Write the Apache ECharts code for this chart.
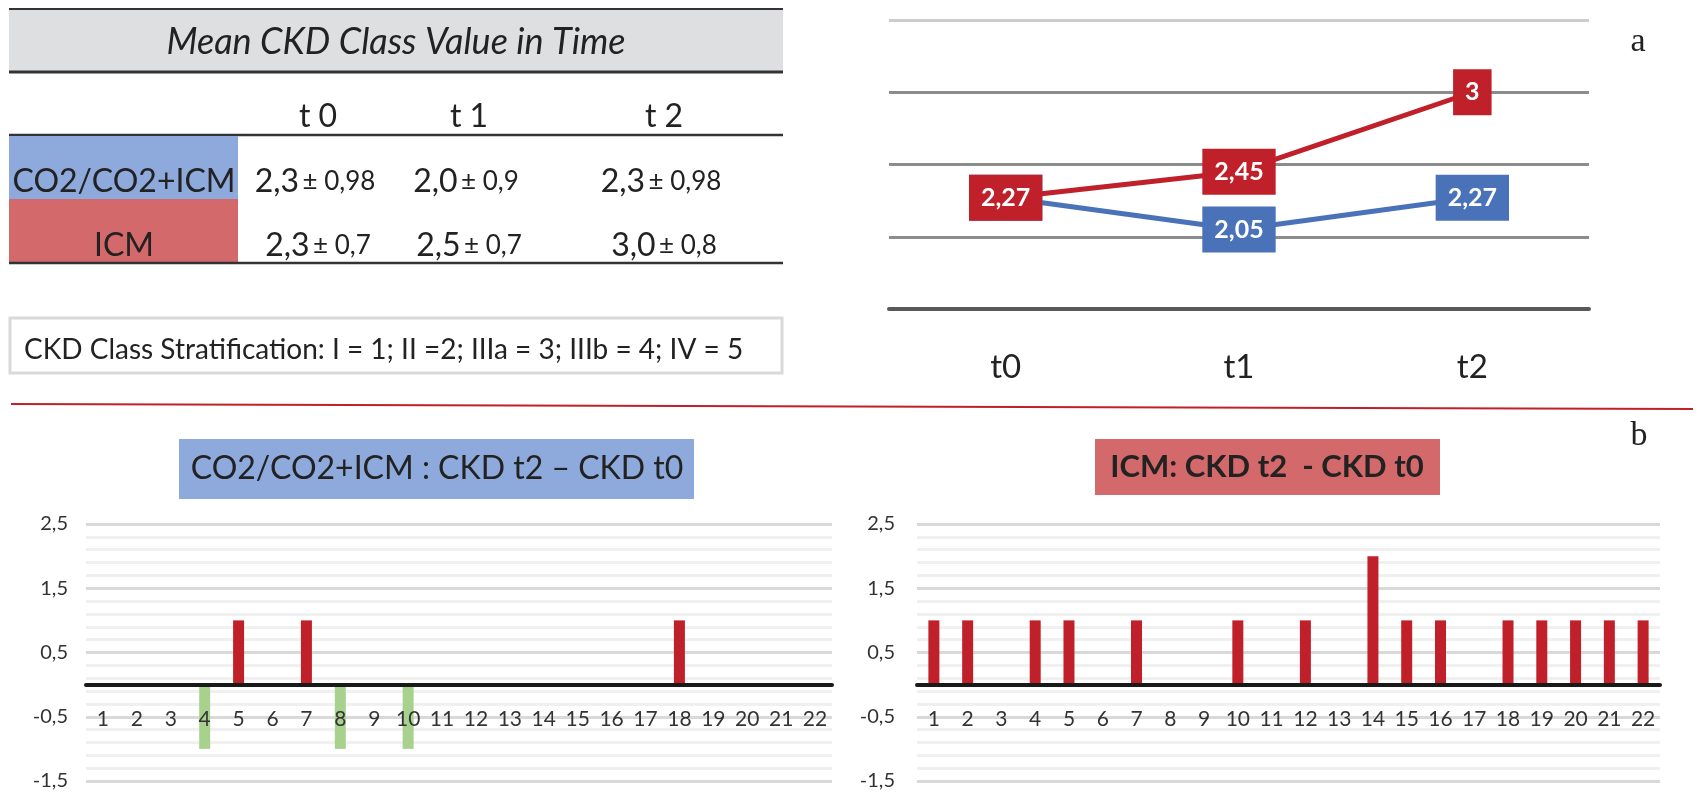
<!DOCTYPE html>
<html>
<head>
    <meta charset="utf-8">
    <title>Mean CKD Class Value in Time</title>
    <script type="text/javascript" src="https://cdn.jsdelivr.net/npm/echarts@6/dist/echarts.min.js"></script>
    <style>
        html, body { margin: 0; padding: 0; background: #fff; }
    </style>
</head>
<body>
    <div id="main" style="width:1700px; height:800px;"></div>
    <script type="text/javascript">

    // ---- data ----
    var timePoints = ['t0', 't1', 't2'];
    var co2Mean = [2.27, 2.05, 2.27];
    var icmMean = [2.27, 2.45, 3];

    // table (mean ± sd)
    var tableHeads = ['t 0', 't 1', 't 2'];
    var tableRows = ['CO2/CO2+ICM', 'ICM'];
    var co2TableMean = ['2,3', '2,0', '2,3'];
    var co2TableSd = ['0,98', '0,9', '0,98'];
    var icmTableMean = ['2,3', '2,5', '3,0'];
    var icmTableSd = ['0,7', '0,7', '0,8'];

    // CKD t2 - CKD t0 per patient
    var patients = ['1','2','3','4','5','6','7','8','9','10','11','12','13','14','15','16','17','18','19','20','21','22'];
    var co2Diff = [0, 0, 0, -1, 1, 0, 1, -1, 0, -1, 0, 0, 0, 0, 0, 0, 0, 1, 0, 0, 0, 0];
    var icmDiff = [1, 1, 0, 1, 1, 0, 1, 0, 0, 1, 0, 1, 0, 2, 1, 1, 0, 1, 1, 1, 1, 1];

    var RED = '#C0202A';
    var BLUE = '#4A72B8';
    var GREEN = '#A9D18E';
    var FONT = 'Lato';

    var BAR_MIN = -1.5, BAR_MAX = 2.5, BAR_H = 257;

    var myChart = echarts.init(document.getElementById('main'));

    function comma(v) {
        return String(v).replace('.', ',');
    }

    // 条形图的网格：每0.1一个刻度，只画-1.5起每0.2一条，每1一条深色
    var barGridColors = ['#d9d9d9', 'rgba(0,0,0,0)', '#f0f0f0', 'rgba(0,0,0,0)', '#f0f0f0',
                         'rgba(0,0,0,0)', '#f0f0f0', 'rgba(0,0,0,0)', '#f0f0f0', 'rgba(0,0,0,0)'];

    function barYAxis(idx, margin) {
        return {
            type: 'value',
            gridIndex: idx,
            min: BAR_MIN,
            max: BAR_MAX,
            interval: 0.1,
            axisLine: { show: false },
            axisTick: { show: false },
            axisLabel: {
                margin: margin,
                fontFamily: FONT,
                fontSize: 20,
                color: '#333',
                formatter: function (v) {
                    var k = Math.round((v - BAR_MIN) * 10);
                    return k % 10 === 0 ? comma(Math.round(v * 10) / 10) : '';
                }
            },
            splitLine: { lineStyle: { color: barGridColors, width: 3 } }
        };
    }

    // x 轴放在 0 处（标签也跟着），画在柱子上面
    function barXAxis(idx) {
        return {
            type: 'category',
            gridIndex: idx,
            data: patients,
            z: 5,
            offset: -BAR_H * (0 - BAR_MIN) / (BAR_MAX - BAR_MIN),
            axisLine: { onZero: false, lineStyle: { color: '#1a1a1a', width: 4 } },
            axisTick: { show: false },
            axisLabel: { interval: 0, margin: 24, fontFamily: FONT, fontSize: 21, color: '#333' }
        };
    }

    function cell(text, x, y, size, extra) {
        var st = { text: text, x: x, y: y, fill: '#222', font: size + 'px ' + FONT,
                   align: 'center', verticalAlign: 'middle' };
        for (var k in extra) st[k] = extra[k];
        return { type: 'text', style: st };
    }

    function hline(y, w) {
        return { type: 'line', shape: { x1: 9, y1: y, x2: 783, y2: y },
                 style: { stroke: '#333', lineWidth: w } };
    }

    function valueText(mean, sd, x, y) {
        return {
            type: 'text',
            style: {
                text: '{m|' + mean + '} {s|± ' + sd + '}',
                x: x, y: y, align: 'center', verticalAlign: 'middle',
                rich: {
                    m: { fontFamily: FONT, fontSize: 32, fill: '#222' },
                    s: { fontFamily: FONT, fontSize: 26, fill: '#222' }
                }
            }
        };
    }

    var colX = [318, 469, 664];
    var graphics = [
        { type: 'rect', shape: { x: 9, y: 9, width: 774, height: 63 }, style: { fill: '#DEDFE1' } },
        hline(9, 2),
        hline(72, 3),
        cell('Mean CKD Class Value in Time', 396, 42, 36, { font: 'italic 36px ' + FONT }),
        hline(135, 2.5),
        { type: 'rect', shape: { x: 9, y: 136, width: 229, height: 63 }, style: { fill: '#8EA9DB' } },
        { type: 'rect', shape: { x: 9, y: 199, width: 229, height: 63 }, style: { fill: '#D4696B' } },
        cell(tableRows[0], 124, 182, 32),
        cell(tableRows[1], 124, 246, 32),
        hline(263, 2.5),
        { type: 'rect', shape: { x: 10, y: 318, width: 772, height: 55 },
          style: { fill: 'none', stroke: '#d9d9d9', lineWidth: 3 } },
        cell('CKD Class Stratification: I = 1; II =2; IIIa = 3; IIIb = 4; IV = 5', 24, 350, 28, { align: 'left' }),
        // separator + panel letters
        { type: 'line', shape: { x1: 11, y1: 404, x2: 1693, y2: 409 }, style: { stroke: RED, lineWidth: 2 } },
        cell('a', 1638, 42, 34, { font: '34px "Liberation Serif"' }),
        cell('b', 1639, 436, 34, { font: '34px "Liberation Serif"' }),
        // bar chart titles
        { type: 'rect', shape: { x: 179, y: 439, width: 515, height: 60 }, style: { fill: '#8EA9DB' } },
        cell('CO2/CO2+ICM : CKD t2 – CKD t0', 437, 469, 32),
        { type: 'rect', shape: { x: 1095, y: 439, width: 345, height: 56 }, style: { fill: '#D4696B' } },
        cell('ICM: CKD t2  - CKD t0', 1267, 467, 31, { font: 'bold 31px ' + FONT })
    ];
    for (var i = 0; i < 3; i++) {
        graphics.push(cell(tableHeads[i], colX[i], 117, 32));
        graphics.push(valueText(co2TableMean[i], co2TableSd[i], colX[i] - 3, 182));
        graphics.push(valueText(icmTableMean[i], icmTableSd[i], colX[i], 246));
    }

    function lineLabel(color) {
        return {
            show: true,
            position: 'inside',
            formatter: function (p) { return comma(p.value); },
            color: '#fff',
            fontFamily: FONT,
            fontWeight: 'bold',
            fontSize: 25,
            backgroundColor: color,
            padding: [11, 12, 10, 12]
        };
    }

    option = {
        animation: false,
        textStyle: { fontFamily: FONT },
        graphic: graphics,
        grid: [
            { left: 889, top: 20, width: 700, height: 289, outerBoundsMode: 'none' },
            { left: 86, top: 524, width: 746, height: BAR_H, outerBoundsMode: 'none' },
            { left: 917, top: 524, width: 743, height: BAR_H, outerBoundsMode: 'none' }
        ],
        xAxis: [
            {
                type: 'category',
                gridIndex: 0,
                data: timePoints,
                axisLine: { lineStyle: { color: '#595959', width: 4 } },
                axisTick: { show: false },
                axisLabel: { margin: 42, fontFamily: FONT, fontSize: 33, color: '#222' }
            },
            barXAxis(1),
            barXAxis(2)
        ],
        yAxis: [
            {
                type: 'value',
                gridIndex: 0,
                min: 1.5,
                max: 3.5,
                interval: 0.5,
                axisLine: { show: false },
                axisTick: { show: false },
                axisLabel: { show: false },
                splitLine: { lineStyle: { color: ['#595959', '#8c8c8c', '#8c8c8c', '#8c8c8c', '#cccccc'], width: 3 } }
            },
            barYAxis(1, 18),
            barYAxis(2, 22)
        ],
        series: [
            {
                name: 'CO2/CO2+ICM',
                type: 'line',
                xAxisIndex: 0,
                yAxisIndex: 0,
                data: co2Mean,
                symbol: 'rect',
                symbolSize: 6,
                itemStyle: { color: BLUE },
                lineStyle: { color: BLUE, width: 5 },
                label: lineLabel(BLUE),
                z: 3
            },
            {
                name: 'ICM',
                type: 'line',
                xAxisIndex: 0,
                yAxisIndex: 0,
                data: icmMean,
                symbol: 'rect',
                symbolSize: 6,
                itemStyle: { color: RED },
                lineStyle: { color: RED, width: 5 },
                label: lineLabel(RED),
                z: 4
            },
            {
                name: 'CO2/CO2+ICM diff',
                type: 'bar',
                xAxisIndex: 1,
                yAxisIndex: 1,
                data: co2Diff,
                barWidth: 11,
                itemStyle: {
                    color: function (p) { return p.value < 0 ? GREEN : RED; }
                }
            },
            {
                name: 'ICM diff',
                type: 'bar',
                xAxisIndex: 2,
                yAxisIndex: 2,
                data: icmDiff,
                barWidth: 11,
                itemStyle: { color: RED }
            }
        ]
    };

    myChart.setOption(option);

    </script>
</body>
</html>
